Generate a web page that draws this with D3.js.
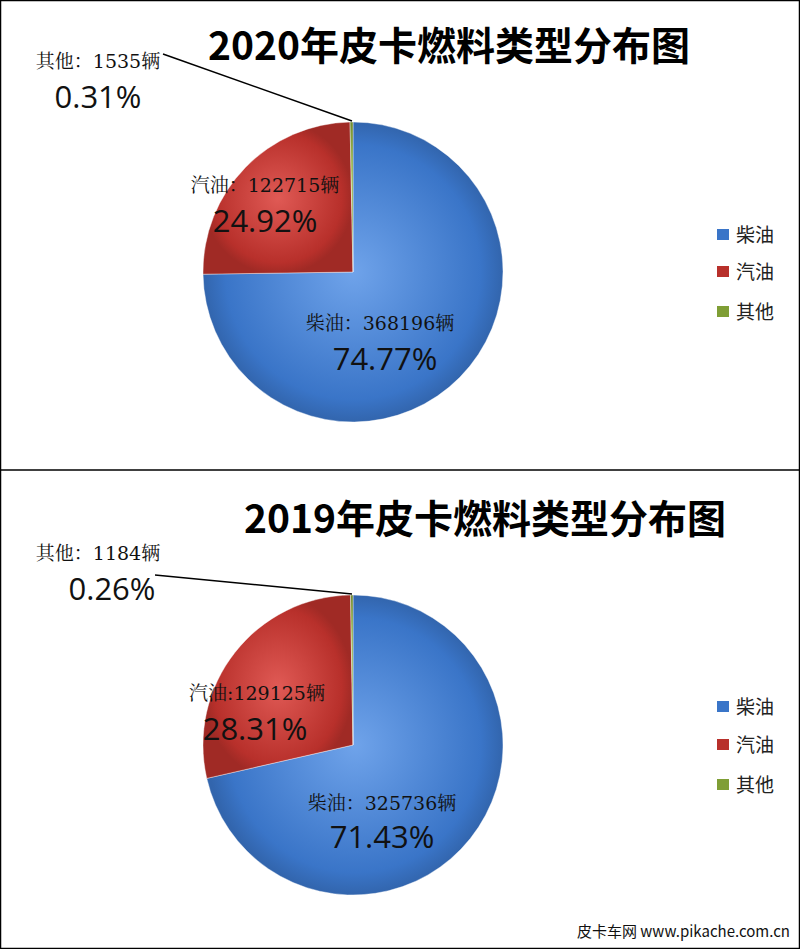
<!DOCTYPE html><html><head><meta charset="utf-8"><script src="https://cdn.jsdelivr.net/npm/d3@7"></script>
<style>body{margin:0;background:#fff}</style></head><body><svg id="c" width="800" height="949"></svg>
<script>
const categories=["柴油","汽油","其他"];
const values2020=[368196,122715,1535];
const pct2020=["74.77%","24.92%","0.31%"];
const values2019=[325736,129125,1184];
const pct2019=["71.43%","28.31%","0.26%"];
const titles=["2020年皮卡燃料类型分布图","2019年皮卡燃料类型分布图"];
const colors=[["#6fa3ea","#3a75c8"],["#e05a55","#b8302b"],["#b6d46a","#7f9e35"]];
const svg=d3.select("#c");
const defs=svg.append("defs");
colors.forEach((c,i)=>{const g=defs.append("radialGradient").attr("id","g"+i).attr("cx","50%").attr("cy","50%").attr("r","50%");
g.append("stop").attr("offset","0%").attr("stop-color",c[0]);g.append("stop").attr("offset","85%").attr("stop-color",c[1]);g.append("stop").attr("offset","100%").attr("stop-color",d3.color(c[1]).darker(0.4));});
svg.append("rect").attr("x",0.5).attr("y",0.5).attr("width",799).attr("height",948).attr("fill","none").attr("stroke","#000").attr("stroke-width",1.5);
svg.append("line").attr("x1",0).attr("x2",800).attr("y1",470).attr("y2",470).attr("stroke","#000").attr("stroke-width",1.5);
const serif="'DejaVu Serif','Liberation Serif','Noto Serif CJK SC','Noto Sans CJK SC',serif";
const sans="'Noto Sans CJK SC',sans-serif";
const panels=[
 {vals:values2020,pct:pct2020,cy:272,title:titles[0],tx:449,ty:60,
  labels:[{x:380,y:330,t:"柴油：368196辆",px:385,py:370},{x:265,y:192,t:"汽油：122715辆",px:265,py:232},{x:98,y:68,t:"其他：1535辆",px:98,py:108}],
  leader:[[163,54],[352,121]],leg:[235,272,312]},
 {vals:values2019,pct:pct2019,cy:745,title:titles[1],tx:485,ty:533,
  labels:[{x:382,y:810,t:"柴油：325736辆",px:382,py:848},{x:257,y:700,t:"汽油:129125辆",px:255,py:740},{x:98,y:560,t:"其他：1184辆",px:112,py:600}],
  leader:[[155,575],[352,594]],leg:[707,745,785]}];
panels.forEach(p=>{
 const cx=353,r=150;
 const g=svg.append("g").attr("transform",`translate(${cx},${p.cy})`);
 const pie=d3.pie().sort(null)(p.vals);
 const arc=d3.arc().innerRadius(0).outerRadius(r);
 g.selectAll("path").data(pie).join("path").attr("d",arc).attr("fill",(d,i)=>`url(#g${i})`).attr("stroke","#fff").attr("stroke-opacity",0.4).attr("stroke-width",1);
 svg.append("text").attr("x",p.tx).attr("y",p.ty).attr("text-anchor","middle").attr("font-family",sans).attr("font-weight","bold").attr("font-size",39).text(p.title);
 p.labels.forEach((l,i)=>{
  svg.append("text").attr("x",l.x).attr("y",l.y).attr("text-anchor","middle").attr("font-family",serif).attr("font-size",19).attr("fill","#111").text(l.t);
  svg.append("text").attr("x",l.px).attr("y",l.py).attr("text-anchor","middle").attr("font-family","'Open Sans',sans-serif").attr("font-size",31).attr("fill","#111").text(p.pct[i]);
 });
 svg.append("line").attr("x1",p.leader[0][0]).attr("y1",p.leader[0][1]).attr("x2",p.leader[1][0]).attr("y2",p.leader[1][1]).attr("stroke","#000").attr("stroke-width",1.5);
 categories.forEach((c,i)=>{
  svg.append("rect").attr("x",717).attr("y",p.leg[i]-6).attr("width",12).attr("height",11).attr("fill",colors[i][1]);
  svg.append("text").attr("x",736).attr("y",p.leg[i]+7).attr("font-family",sans).attr("font-size",19).attr("fill","#222").text(c);
 });
});
svg.append("text").attr("x",790).attr("y",937).attr("text-anchor","end").attr("font-family",sans).attr("font-size",15).attr("fill","#111").text("皮卡车网  www.pikache.com.cn");
</script></body></html>
